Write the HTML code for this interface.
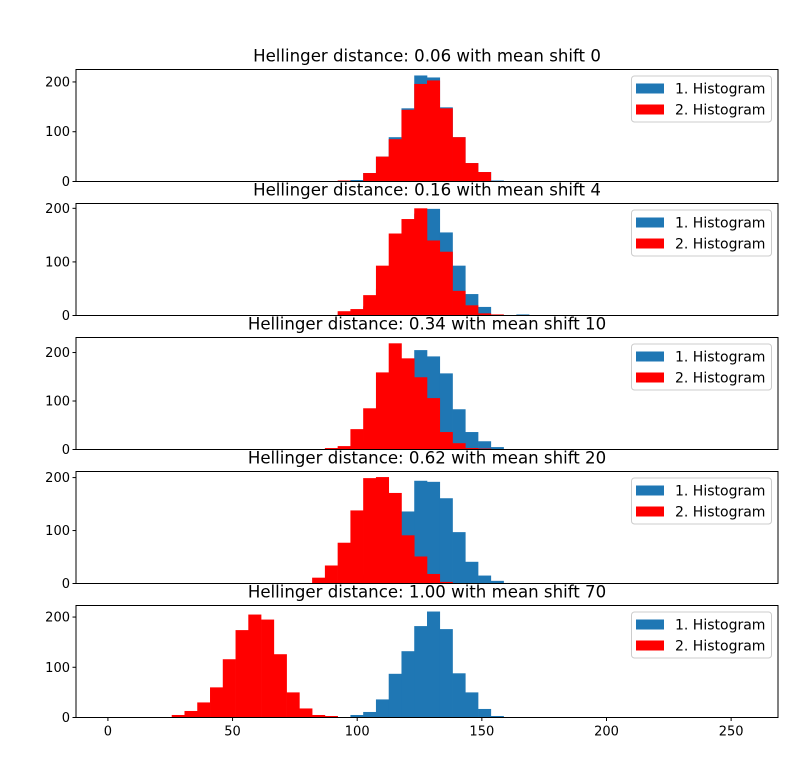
<!DOCTYPE html>
<html><head><meta charset="utf-8"><style>
body{margin:0;background:#fff}
svg text{font-family:"DejaVu Sans","Liberation Sans",sans-serif}
</style></head><body>
<svg id="chart" width="811" height="775" xmlns="http://www.w3.org/2000/svg"></svg>
<script>
const binWidth = 5.12;
const titles = ["Hellinger distance: 0.06 with mean shift 0","Hellinger distance: 0.16 with mean shift 4","Hellinger distance: 0.34 with mean shift 10","Hellinger distance: 0.62 with mean shift 20","Hellinger distance: 1.00 with mean shift 70"];
const blueStart = [18,18,18,18,19];
const blue1 = [0,3,17,50,89,147,213,209,149,89,37,19,2];
const blue2 = [2,3,17,50,89,147,190,199,155,93,40,16,0,0,2];
const blue3 = [2,3,17,50,89,147,205,192,157,83,36,17,5];
const blue4 = [2,3,17,50,89,136,194,192,161,97,41,15,5,1];
const blue5 = [5,11,36,87,132,182,211,176,88,50,17,3];
const redStart = [18,18,17,15,5];
const red1 = [2,0,17,50,85,144,196,203,147,89,37,19,1];
const red2 = [8,12,38,93,153,180,200,140,119,46,19,4,2];
const red3 = [3,7,42,85,159,219,188,149,106,36,13,3,2];
const red4 = [1,11,34,77,138,199,201,171,91,51,18,3];
const red5 = [5,13,30,60,116,174,205,195,126,50,18,5,3];
const yMax = [225,209,231,211.5,223];
const xTicks = [0,50,100,150,200,250];
const yTicks = [0,100,200];

const blues=[blue1,blue2,blue3,blue4,blue5], reds=[red1,red2,red3,red4,red5];
const svg=document.getElementById('chart');
const NS='http://www.w3.org/2000/svg';
const L=76,R=778,xMin=-12.8,xMax=268.8;
const tops=[69.5,203.5,337.5,471.5,605.5], H=112;
function sx(v){return L+(v-xMin)/(xMax-xMin)*(R-L);}
function mk(tag,attrs,parent){const e=document.createElementNS(NS,tag);for(const k in attrs)e.setAttribute(k,attrs[k]);(parent||svg).appendChild(e);return e;}
for(let p=0;p<5;p++){
  const top=tops[p],bot=top+H;
  const sy=v=>bot-v/yMax[p]*H;
  const g=mk('g',{});
  
  
  const drawSeries=(arr,start,color,name)=>{
    arr.forEach((v,i)=>{
      if(v<=0)return;
      const x0=sx((start+i)*binWidth),x1=sx((start+i+1)*binWidth);
      const r=mk('rect',{x:x0,y:sy(v),width:x1-x0+0.3,height:bot-sy(v),fill:color},g);
      
      
    });
  };
  drawSeries(blues[p],blueStart[p],'#1f77b4','histogram-1');
  drawSeries(reds[p],redStart[p],'#ff0000','histogram-2');
  const fr=mk('rect',{x:L,y:top,width:R-L,height:H,fill:'none',stroke:'#000','stroke-width':1},g);
  
  
  yTicks.forEach(t=>{
    mk('line',{x1:L-3.5,x2:L,y1:sy(t),y2:sy(t),stroke:'#000'},g);
    const tx=mk('text',{x:L-6,y:sy(t)+4.5,'text-anchor':'end','font-size':13},g);
    tx.textContent=t;
    
    
  });
  const tt=mk('text',{x:(L+R)/2,y:top-8,'text-anchor':'middle','font-size':16.6},g);
  tt.textContent=titles[p];
  
  
  const lg=mk('g',{},g);
  
  
  mk('rect',{x:631.5,y:top+6.5,width:140,height:46,rx:3,fill:'#fff','fill-opacity':0.8,stroke:'#ccc'},lg);
  [['#1f77b4','1. Histogram'],['#ff0000','2. Histogram']].forEach((e,i)=>{
    mk('rect',{x:636,y:top+14+i*21,width:28,height:10,fill:e[0]},lg);
    const t=mk('text',{x:675,y:top+24+i*21,'font-size':14},lg);
    t.textContent=e[1];
    
    
  });
  if(p===4){
    xTicks.forEach(t=>{
      mk('line',{x1:sx(t),x2:sx(t),y1:bot,y2:bot+3.5,stroke:'#000'},g);
      const tx=mk('text',{x:sx(t),y:bot+18,'text-anchor':'middle','font-size':13},g);
      tx.textContent=t;
      
      
    });
  }
}
</script>
</body></html>
